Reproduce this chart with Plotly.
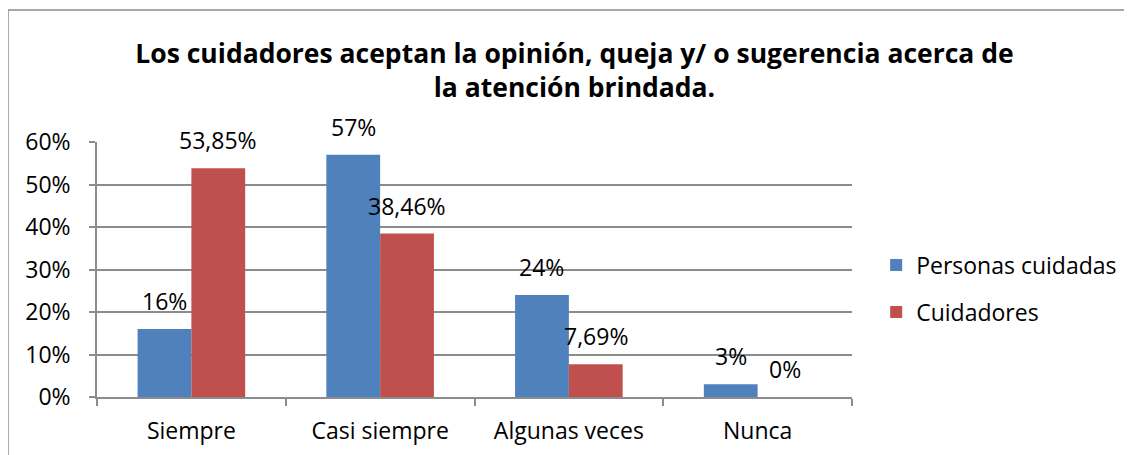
import plotly.graph_objects as go

categories = ["Siempre", "Casi siempre", "Algunas veces", "Nunca"]
personas_cuidadas = [0.16, 0.57, 0.24, 0.03]
cuidadores = [0.5385, 0.3846, 0.0769, 0.0]
series_names = ["Personas cuidadas", "Cuidadores"]
y_ticks = [0, 0.1, 0.2, 0.3, 0.4, 0.5, 0.6]
y_tick_labels = ["0%", "10%", "20%", "30%", "40%", "50%", "60%"]
title_text = ("Los cuidadores aceptan la opinión, queja y/ o sugerencia acerca de"
              "<br>la atención brindada.")

BLUE = "#4F81BD"
RED = "#C0504D"
GRID = "#8C8C8C"
FONT = "Open Sans"


def fmt_int(v):
    return f"{round(v * 100)}%"


def fmt_dec(v):
    if v == 0:
        return "0%"
    return f"{v * 100:.2f}%".replace(".", ",")


labels_personas = [fmt_int(v) for v in personas_cuidadas]
labels_cuidadores = [fmt_dec(v) for v in cuidadores]

fig = go.Figure()
fig.add_trace(go.Bar(x=categories, y=personas_cuidadas, name=series_names[0],
                     marker=dict(color=BLUE, line=dict(width=0)),
                     legendgroup="a"))
fig.add_trace(go.Bar(x=categories, y=cuidadores, name=series_names[1],
                     marker=dict(color=RED, line=dict(width=0)),
                     legendgroup="b"))

annotations = []
for vals, labs, shift in ((personas_cuidadas, labels_personas, -27),
                          (cuidadores, labels_cuidadores, 27)):
    for c, v, t in zip(categories, vals, labs):
        annotations.append(dict(x=c, y=v, xref="x", yref="y", text=t,
                                showarrow=False, xshift=shift, yshift=10,
                                yanchor="bottom",
                                font=dict(family=FONT, size=23, color="#000")))

fig.update_layout(
    width=1124, height=447,
    margin=dict(l=89, r=280, t=134, b=58, autoexpand=False),
    paper_bgcolor="white", plot_bgcolor="white",
    barmode="group", bargap=0.43, bargroupgap=0,
    title=dict(text=title_text, x=0.504, xanchor="center", y=0.878, yanchor="top",
               font=dict(family=FONT, size=26.5, color="#000", weight="bold")),
    font=dict(family=FONT, size=23, color="#000"),
    legend=dict(x=1.032, y=0.425, xanchor="left", yanchor="middle",
                font=dict(family=FONT, size=23, color="#000"),
                tracegroupgap=14, bgcolor="rgba(0,0,0,0)"),
    annotations=annotations,
    shapes=[dict(type="rect", xref="paper", yref="paper",
                 x0=-0.1179, x1=1.6, y0=-1.0, y1=1.5176,
                 line=dict(color="#8C8C8C", width=1.5), layer="below")],
    showlegend=True,
)
fig.update_xaxes(
    type="category", showline=True, linecolor=GRID, linewidth=1.5,
    ticks="outside", tickson="boundaries", ticklen=7, tickcolor=GRID,
    tickwidth=1.5, ticklabelstandoff=13, automargin=False,
    tickfont=dict(family=FONT, size=23, color="#000"), showgrid=False,
)
fig.update_yaxes(
    range=[0, 0.6], tickvals=y_ticks, ticktext=y_tick_labels,
    showline=True, linecolor=GRID, linewidth=1.5,
    ticks="outside", ticklen=6, tickcolor=GRID, tickwidth=1.5,
    showgrid=True, gridcolor=GRID, gridwidth=1.5, zeroline=False,
    automargin=False,
    tickfont=dict(family=FONT, size=23, color="#000"), ticklabelstandoff=14,
)

fig.write_html("out.html")
